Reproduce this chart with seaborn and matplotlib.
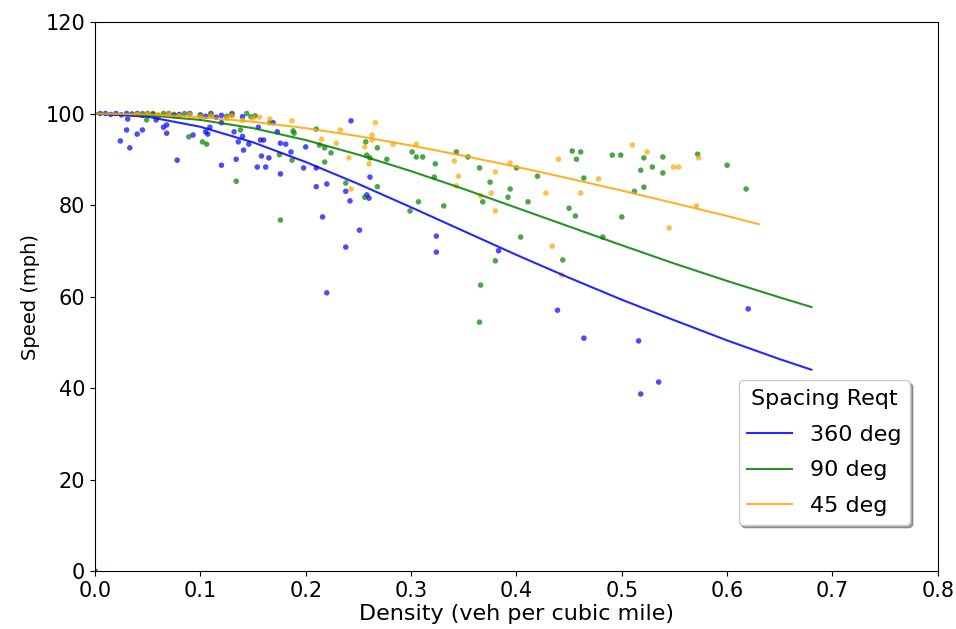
import matplotlib
matplotlib.use("Agg")
import matplotlib.pyplot as plt
import seaborn as sns
import pandas as pd

# ---- data ----
groups = ["360 deg", "90 deg", "45 deg"]
colors = ["blue", "green", "orange"]

blue_x = [0.0, 0.005, 0.01, 0.015, 0.02, 0.025, 0.03, 0.035, 0.04, 0.045, 0.05, 0.055, 0.06, 0.07, 0.075,
          0.08, 0.09, 0.1, 0.105, 0.11, 0.115, 0.12, 0.13, 0.14,
          0.024, 0.033, 0.030, 0.040, 0.045, 0.031, 0.078, 0.065, 0.068, 0.068, 0.058, 0.093, 0.105, 0.107,
          0.120, 0.134, 0.136, 0.109, 0.12, 0.243, 0.141, 0.146, 0.154, 0.162, 0.158, 0.165, 0.157, 0.16,
          0.173, 0.176, 0.176, 0.181, 0.186, 0.200, 0.198, 0.21, 0.21, 0.22, 0.238, 0.242, 0.258, 0.261,
          0.26, 0.132, 0.14, 0.155, 0.169, 0.216, 0.251, 0.238, 0.22, 0.324, 0.324, 0.383, 0.439, 0.464,
          0.516, 0.535, 0.518, 0.62]
blue_y = [0.0, 100, 100, 99.8, 100, 99.7, 100, 99.9, 100, 99.6, 100, 99.8, 99.5, 100, 99.6,
          99.8, 100, 99.7, 99.4, 100, 99.2, 99.6, 100, 99.3,
          94, 92.5, 96.4, 95.5, 96.4, 98.8, 89.8, 97, 97.5, 95.7, 98.6, 95.3, 96, 95.5,
          88.7, 90, 93.8, 97, 98, 98.4, 92, 93.3, 88.3, 88.3, 90.7, 90.3, 94.2, 94.2,
          96, 86.8, 93.5, 93.3, 91.6, 92.7, 88.1, 88.1, 84, 84.6, 83, 80.9, 82.2, 86.1,
          81.5, 96, 95, 97, 98, 77.4, 74.5, 70.8, 60.8, 73.2, 69.7, 70, 57, 50.9,
          50.3, 41.3, 38.7, 57.3]

green_x = [0.045, 0.05, 0.055, 0.06, 0.065, 0.075, 0.085, 0.1, 0.11, 0.125, 0.13, 0.148, 0.049,
           0.089, 0.102, 0.106, 0.134, 0.144, 0.138, 0.152, 0.166, 0.188, 0.189, 0.175, 0.187, 0.21,
           0.213, 0.218, 0.224, 0.218, 0.238, 0.257, 0.258, 0.261, 0.268, 0.256, 0.268, 0.176, 0.277,
           0.301, 0.305, 0.311, 0.323, 0.322, 0.307, 0.299, 0.331, 0.343, 0.354, 0.365, 0.375, 0.368,
           0.394, 0.392, 0.4, 0.411, 0.42, 0.404, 0.38, 0.366, 0.365, 0.444, 0.45, 0.456, 0.453, 0.461,
           0.457, 0.464, 0.491, 0.499, 0.521, 0.518, 0.529, 0.539, 0.539, 0.512, 0.521, 0.5, 0.572,
           0.6, 0.618, 0.482]
green_y = [100, 99.8, 100, 99.6, 100, 99.8, 100, 99.5, 99.8, 99.4, 99.7, 99.3, 98.6,
           94.9, 93.8, 93.3, 85.2, 100, 96.4, 99.5, 98, 96.2, 95.7, 91, 89.8, 96.6,
           93.1, 92.5, 91.4, 89.4, 84.8, 93.8, 90.9, 90.3, 92.5, 81.7, 84, 76.7, 90,
           91.6, 90.5, 90.5, 89, 86.1, 80.7, 78.7, 79.8, 91.6, 90.5, 88.1, 85, 80.7,
           83.5, 81.7, 88.1, 80.7, 86.3, 73, 67.8, 62.5, 54.4, 68, 79.3, 77.6, 91.8, 91.6,
           90, 85.9, 90.9, 90.9, 90.3, 87.6, 88.3, 90.5, 87, 83, 83.9, 77.4, 91.1,
           88.7, 83.5, 73]

orange_x = [0.04, 0.05, 0.06, 0.07, 0.08, 0.09, 0.1, 0.11, 0.125, 0.13, 0.14, 0.15,
            0.187, 0.166, 0.156, 0.266, 0.233, 0.215, 0.229, 0.241, 0.263, 0.263, 0.26, 0.243, 0.256,
            0.283, 0.305, 0.341, 0.345, 0.343, 0.38, 0.394, 0.376, 0.366, 0.38, 0.428, 0.44, 0.461,
            0.434, 0.443, 0.478, 0.51, 0.524, 0.549, 0.554, 0.573, 0.571, 0.545]
orange_y = [99.8, 100, 99.7, 100, 99.5, 99.8, 99.3, 99.6, 99, 99.5, 98.5, 99,
            98.4, 98.8, 99.2, 98, 96.4, 94.4, 93.5, 90.3, 95.3, 94.2, 89, 83.5, 92.7,
            93.3, 93.3, 89.6, 86.3, 84.2, 87.2, 89.2, 82.6, 82, 78.7, 82.6, 90, 82.6,
            71, 64.7, 85.7, 93.1, 91.6, 88.3, 88.3, 90.3, 79.8, 75]

# fitted curves
blue_fit_x = [0, 0.05, 0.1, 0.15, 0.2, 0.25, 0.3, 0.35, 0.4, 0.45, 0.5, 0.55, 0.6, 0.65, 0.68]
blue_fit_y = [100, 99.3, 97.1, 93.7, 89.4, 84.6, 79.5, 74.3, 69.1, 64.1, 59.3, 54.8, 50.4, 46.3, 44.0]
green_fit_x = [0, 0.05, 0.1, 0.15, 0.2, 0.25, 0.3, 0.35, 0.4, 0.45, 0.5, 0.55, 0.6, 0.65, 0.68]
green_fit_y = [100, 99.6, 98.6, 96.8, 94.2, 91.0, 87.4, 83.5, 79.4, 75.3, 71.2, 67.2, 63.4, 59.8, 57.7]
orange_fit_x = [0, 0.05, 0.1, 0.15, 0.2, 0.25, 0.3, 0.35, 0.4, 0.45, 0.5, 0.55, 0.6, 0.63]
orange_fit_y = [100, 99.8, 99.2, 98.2, 96.8, 95.05, 93.0, 90.75, 88.35, 85.8, 83.15, 80.4, 77.6, 75.8]

# ---- frames ----
pts = pd.concat([
    pd.DataFrame({"x": blue_x, "y": blue_y, "g": groups[0]}),
    pd.DataFrame({"x": green_x, "y": green_y, "g": groups[1]}),
    pd.DataFrame({"x": orange_x, "y": orange_y, "g": groups[2]}),
], ignore_index=True)
fits = pd.concat([
    pd.DataFrame({"x": blue_fit_x, "y": blue_fit_y, "g": groups[0]}),
    pd.DataFrame({"x": green_fit_x, "y": green_fit_y, "g": groups[1]}),
    pd.DataFrame({"x": orange_fit_x, "y": orange_fit_y, "g": groups[2]}),
], ignore_index=True)
palette = dict(zip(groups, colors))

fig = plt.figure(figsize=(9.56, 6.29), dpi=100)
ax = fig.add_axes([0.0994, 0.0922, 0.8816, 0.8728])

sns.scatterplot(data=pts, x="x", y="y", hue="g", palette=palette, hue_order=groups,
                s=16, alpha=0.7, linewidth=0, legend=False, ax=ax)
sns.lineplot(data=fits, x="x", y="y", hue="g", palette=palette, hue_order=groups,
             linewidth=1.5, alpha=0.85, sort=False, estimator=None, ax=ax)

ax.set_xlim(0, 0.8)
ax.set_ylim(0, 120)
ax.set_xticks([0, 0.1, 0.2, 0.3, 0.4, 0.5, 0.6, 0.7, 0.8])
ax.set_yticks([0, 20, 40, 60, 80, 100, 120])
ax.tick_params(labelsize=15)
ax.set_xlabel("Density (veh per cubic mile)", fontsize=16, labelpad=2)
ax.set_ylabel("Speed (mph)", fontsize=14)

leg = ax.legend(title="Spacing Reqt", loc="lower right", bbox_to_anchor=(0.967, 0.084),
                borderaxespad=0, fontsize=16, title_fontsize=16, shadow=True,
                fancybox=True, frameon=True, labelspacing=0.7)

fig.savefig("out.png", dpi=100)
